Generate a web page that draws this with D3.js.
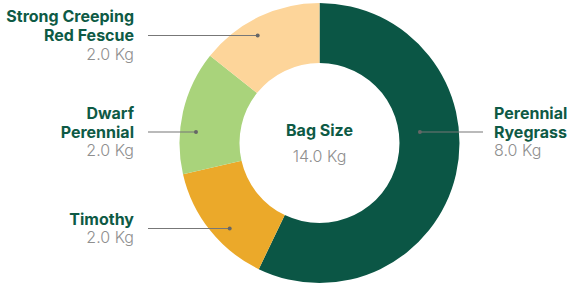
<!DOCTYPE html>
<html>
<head>
<meta charset="utf-8">
<script src="https://cdn.jsdelivr.net/npm/d3@7"></script>
<style>
  body { margin: 0; background: #fff; }
  svg { display: block; font-family: Inter, "Open Sans", sans-serif; }
</style>
</head>
<body>
<div id="chart"></div>
<script>
// data
var names = [["Perennial", "Ryegrass"], ["Timothy"], ["Dwarf", "Perennial"], ["Strong Creeping", "Red Fescue"]];
var weights = [8.0, 2.0, 2.0, 2.0];
var colors = ["#0b5645", "#eba92a", "#a9d37b", "#fdd59a"];
var centerTitle = "Bag Size";
var unit = "Kg";

var width = 579, height = 285;
var cx = 319.5, cy = 143;
var outerR = 140, innerR = 80, dotR = 122;

var svg = d3.select("#chart").append("svg")
    .attr("width", width)
    .attr("height", height);

var g = svg.append("g")
    .attr("transform", "translate(" + cx + "," + cy + ")");

var pie = d3.pie().sort(null).value(function(d) { return d; });
var arcs = pie(weights);

var arc = d3.arc().innerRadius(innerR).outerRadius(outerR);

// slices
g.selectAll("path.slice")
    .data(arcs)
    .enter().append("path")
    .attr("class", "slice")
    .attr("d", arc)
    .attr("fill", function(d, i) { return colors[i]; });

// labels: split by side, spread evenly in height
var spacing = 96.5;
var labelMid = -11;
var left = [], right = [];
arcs.forEach(function(d, i) {
    var mid = (d.startAngle + d.endAngle) / 2;
    var item = { i: i, mid: mid };
    if (mid < Math.PI) right.push(item); else left.push(item);
});
// left side runs bottom to top as angle increases
left.sort(function(a, b) { return b.mid - a.mid; });
right.sort(function(a, b) { return a.mid - b.mid; });

function place(list, side, r) {
    var n = list.length;
    list.forEach(function(d, k) {
        d.side = side;
        d.y = labelMid + (k - (n - 1) / 2) * spacing;
        d.x = side * Math.sqrt(Math.max(0, r * r - d.y * d.y));
    });
}
place(left, -1, dotR + 2);
place(right, 1, dotR - 21);

var labels = left.concat(right);
var lineFar = { "-1": 148 - cx, "1": 483 - cx };
var textX = { "-1": 134 - cx, "1": 494 - cx };
var lineH = 18.8;

labels.forEach(function(d) {
    g.append("line")
        .attr("x1", d.x).attr("y1", d.y)
        .attr("x2", lineFar[d.side]).attr("y2", d.y)
        .attr("stroke", "#777").attr("stroke-width", 1.2);
    g.append("circle")
        .attr("cx", d.x).attr("cy", d.y).attr("r", 2)
        .attr("fill", "#666");

    var lines = names[d.i];
    var total = lines.length + 1;
    var top = d.y - (total - 1) * lineH / 2 + 5.5;
    var t = g.append("text")
        .attr("text-anchor", d.side < 0 ? "end" : "start")
        .attr("font-size", 16);
    lines.forEach(function(s, k) {
        t.append("tspan")
            .attr("x", textX[d.side])
            .attr("y", top + k * lineH)
            .attr("font-weight", 700)
            .attr("fill", "#0e5a45")
            .text(s);
    });
    t.append("tspan")
        .attr("x", textX[d.side])
        .attr("y", top + lines.length * lineH)
        .attr("font-weight", 300)
        .attr("fill", "#8f8f8f")
        .text(weights[d.i].toFixed(1) + " " + unit);
});

// center
g.append("text")
    .attr("text-anchor", "middle")
    .attr("y", -7)
    .attr("font-size", 16)
    .attr("font-weight", 700)
    .attr("fill", "#0e5a45")
    .text(centerTitle);
g.append("text")
    .attr("text-anchor", "middle")
    .attr("y", 19)
    .attr("font-size", 16)
    .attr("font-weight", 300)
    .attr("fill", "#8f8f8f")
    .text(d3.sum(weights).toFixed(1) + " " + unit);
</script>
</body>
</html>
